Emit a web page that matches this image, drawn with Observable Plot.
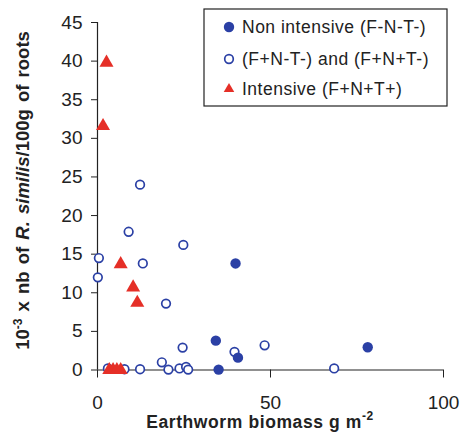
<!DOCTYPE html>
<html><head><meta charset="utf-8">
<script src="https://cdn.jsdelivr.net/npm/d3@7"></script>
<script src="https://cdn.jsdelivr.net/npm/@observablehq/plot@0.6"></script>
<style>body{margin:0;background:#fff;} svg{font-family:"Liberation Sans",Arial,sans-serif;}</style>
</head><body><div id="chart"></div>
<script>
const groups = ["Non intensive (F-N-T-)", "(F+N-T-) and (F+N+T-)", "Intensive (F+N+T+)"];
const nonX = [39.9, 34.2, 40.6, 35.0, 78.1];
const nonY = [13.8, 3.8, 1.6, 0.05, 2.95];
const midX = [12.3, 9.0, 24.8, 0.4, 13.1, 0.1, 19.8, 24.6, 39.6, 48.3, 18.6, 3.0, 7.8, 12.3, 20.5, 23.7, 25.6, 26.2, 68.4];
const midY = [24.0, 17.9, 16.2, 14.5, 13.8, 12.0, 8.6, 2.9, 2.35, 3.2, 1.0, 0.2, 0.1, 0.1, 0.05, 0.2, 0.4, 0.05, 0.2];
const intX = [2.6, 1.6, 6.7, 10.3, 11.5, 3.4, 4.5, 5.6, 6.7];
const intY = [39.8, 31.6, 13.7, 10.7, 8.7, 0, 0, 0, 0];
const xTicks = [0, 50, 100];
const yTicks = [0, 5, 10, 15, 20, 25, 30, 35, 40, 45];
const blue = "#2b40a5", red = "#e52f27";

const toRows = (xs, ys, g) => xs.map((x, i) => ({x, y: ys[i], g}));
const non = toRows(nonX, nonY, groups[0]);
const mid = toRows(midX, midY, groups[1]);
const inten = toRows(intX, intY, groups[2]);

const plot = Plot.plot({
  width: 460, height: 438,
  marginLeft: 97, marginRight: 17, marginTop: 22, marginBottom: 68.5,
  style: {fontFamily: '"Liberation Sans", Arial, sans-serif', fontSize: "19px", color: "#222", background: "#fff"},
  x: {domain: [0, 100]},
  y: {domain: [0, 45]},
  marks: [
    Plot.axisY({ticks: yTicks, tickSize: 6, tickPadding: 9, label: null, fontSize: 19}),
    Plot.axisX({ticks: xTicks, tickSize: 8, tickPadding: 17, label: null, fontSize: 19}),
    Plot.ruleX([0], {y1: 0, y2: 45, stroke: "#222", strokeWidth: 1.2}),
    Plot.ruleY([0], {x1: 0, x2: 100, stroke: "#222", strokeWidth: 1.2}),
    Plot.dot(mid, {x: "x", y: "y", r: 4.3, stroke: blue, strokeWidth: 1.7, fill: "#fff"}),
    Plot.dot(non, {x: "x", y: "y", r: 5.2, fill: blue, stroke: "none"}),
    Plot.dot(inten, {x: "x", y: "y", symbol: "triangle", r: 5.2, fill: red, stroke: "none"})
  ]
});
document.getElementById("chart").appendChild(plot);

const svg = d3.select(plot);
// y-axis label
const yl = svg.append("text")
  .attr("transform", "translate(29,190.5) rotate(-90)")
  .attr("text-anchor", "middle").attr("word-spacing", 2)
  .attr("font-weight", "bold").attr("font-size", 18.5).attr("fill", "#222");
yl.append("tspan").text("10");
yl.append("tspan").attr("dy", -7).attr("font-size", 12).text("-3");
yl.append("tspan").attr("dy", 7).text(" x nb of ");
yl.append("tspan").attr("font-style", "italic").text("R. similis");
yl.append("tspan").text("/100g of roots");
// x-axis label
const xl = svg.append("text")
  .attr("x", 260).attr("y", 428).attr("text-anchor", "middle")
  .attr("letter-spacing", 0.6)
  .attr("font-weight", "bold").attr("font-size", 17.5).attr("fill", "#222");
xl.append("tspan").text("Earthworm biomass g m");
xl.append("tspan").attr("dy", -8).attr("font-size", 12).text("-2");

// legend
const lg = svg.append("g");
lg.append("rect").attr("x", 204).attr("y", 9).attr("width", 243).attr("height", 97)
  .attr("fill", "#fff").attr("stroke", "#222").attr("stroke-width", 1.2);
const rowsY = [27, 59, 89];
lg.append("circle").attr("cx", 229).attr("cy", rowsY[0]).attr("r", 5.2).attr("fill", blue);
lg.append("circle").attr("cx", 229).attr("cy", rowsY[1]).attr("r", 4.3).attr("fill", "#fff").attr("stroke", blue).attr("stroke-width", 1.7);
lg.append("path").attr("d", d3.symbol(d3.symbolTriangle2, 80)()).attr("transform", `translate(229,${rowsY[2]})`).attr("fill", red);
groups.forEach((g, i) => {
  lg.append("text").attr("x", 242).attr("y", rowsY[i]).attr("dy", "0.36em")
    .attr("text-anchor", "start").attr("letter-spacing", 0.5)
    .attr("font-size", 17.5).attr("fill", "#222").text(g);
});
</script></body></html>
